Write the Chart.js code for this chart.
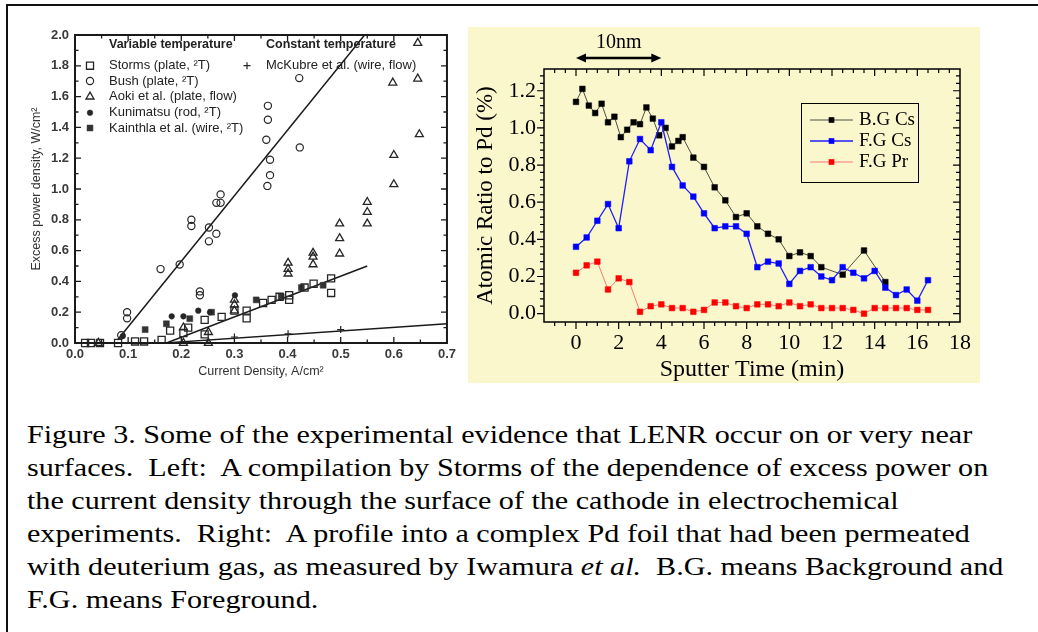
<!DOCTYPE html>
<html>
<head>
<meta charset="utf-8">
<title>Figure 3</title>
<script src="https://cdn.jsdelivr.net/npm/chart.js@4.4.1/dist/chart.umd.min.js"></script>
<style>
  html, body { margin: 0; padding: 0; background: #fff; width: 1038px; height: 632px; overflow: hidden; }
  #frame { position: absolute; left: 6px; top: 4px; width: 1100px; height: 700px; border: 2px solid #111; }
  #leftBox { position: absolute; left: 14px; top: 20px; width: 446px; height: 365px; }
  #rightBox { position: absolute; left: 468px; top: 27px; width: 512px; height: 356px; background: #fbf7cd; }
  #caption {
    position: absolute; left: 27px; top: 418px;
    font-family: "Liberation Serif", "Times New Roman", serif; font-size: 25px; line-height: 33px;
    color: #000; white-space: pre; transform: scaleX(1.205); transform-origin: 0 0;
  }
</style>
</head>
<body>
<div id="frame"></div>
<div id="leftBox"><canvas id="leftChart" width="446" height="365"></canvas></div>
<div id="rightBox"><canvas id="rightChart" width="512" height="356"></canvas></div>
<div id="caption">Figure 3. Some of the experimental evidence that LENR occur on or very near
surfaces.  Left:  A compilation by Storms of the dependence of excess power on
the current density through the surface of the cathode in electrochemical
experiments.  Right:  A profile into a complex Pd foil that had been permeated
with deuterium gas, as measured by Iwamura <i>et al.</i>  B.G. means Background and
F.G. means Foreground.</div>

<script>
// ---- left panel: excess power vs current density ----
const stormsX = [0.019, 0.030, 0.047, 0.081, 0.113, 0.130, 0.163, 0.179, 0.204, 0.213, 0.244, 0.244, 0.276, 0.300, 0.323, 0.323, 0.354, 0.370, 0.385, 0.403, 0.403, 0.432, 0.449, 0.482, 0.482];
const stormsY = [0.0, 0.0, 0.0, 0.0, 0.01, 0.01, 0.02, 0.08, 0.065, 0.10, 0.15, 0.056, 0.17, 0.21, 0.21, 0.16, 0.26, 0.28, 0.30, 0.31, 0.28, 0.36, 0.385, 0.42, 0.325];

const bushX = [0.087, 0.098, 0.098, 0.161, 0.197, 0.219, 0.219, 0.235, 0.235, 0.252, 0.252, 0.266, 0.266, 0.274, 0.274, 0.362, 0.367, 0.367, 0.360, 0.363, 0.363, 0.422, 0.423];
const bushY = [0.05, 0.20, 0.16, 0.48, 0.51, 0.80, 0.76, 0.335, 0.31, 0.75, 0.66, 0.71, 0.91, 0.91, 0.965, 1.02, 1.09, 1.19, 1.32, 1.45, 1.54, 1.72, 1.27];

const aokiX = [0.044, 0.204, 0.204, 0.251, 0.251, 0.300, 0.300, 0.300, 0.401, 0.401, 0.401, 0.448, 0.448, 0.448, 0.498, 0.498, 0.498, 0.550, 0.550, 0.550, 0.600, 0.600, 0.598, 0.648, 0.645, 0.645];
const aokiY = [0.0, 0.0, 0.10, 0.0, 0.07, 0.21, 0.25, 0.28, 0.45, 0.48, 0.52, 0.51, 0.56, 0.585, 0.58, 0.68, 0.775, 0.775, 0.85, 0.915, 1.03, 1.22, 1.69, 1.355, 1.716, 1.948];

const kunimatsuX = [0.090, 0.182, 0.204, 0.232, 0.254, 0.301];
const kunimatsuY = [0.045, 0.173, 0.173, 0.21, 0.20, 0.31];

const kainthlaX = [0.132, 0.172, 0.216, 0.257, 0.341, 0.388, 0.426, 0.467];
const kainthlaY = [0.087, 0.125, 0.158, 0.20, 0.28, 0.30, 0.36, 0.375];

const mckubreX = [0.300, 0.401, 0.500];
const mckubreY = [0.039, 0.060, 0.087];

// fitted straight lines drawn on the original
const bushFitX = [0.08, 0.545];
const bushFitY = [0.02, 2.0];
const stormsFitX = [0.172, 0.55];
const stormsFitY = [0.0, 0.50];
const mckubreFitX = [0.17, 0.70];
const mckubreFitY = [0.0, 0.125];

const leftXTicks = [0, 0.7, 0.1];   // min, max, step
const leftYTicks = [0, 2.0, 0.2];

// ---- right panel: sputter depth profile ----
const bgTime = [0, 0.3, 0.6, 0.9, 1.2, 1.5, 1.8, 2.1, 2.4, 2.7, 3.0, 3.3, 3.6, 3.9, 4.2, 4.5, 4.8, 5.0,
                5.5, 6.0, 6.5, 7.0, 7.5, 8.0, 8.5, 9.0, 9.5, 10.0, 10.5, 11.0, 11.5, 12.5, 13.5, 14.5];
const bgCs = [1.14, 1.21, 1.12, 1.08, 1.13, 1.03, 1.06, 0.95, 0.99, 1.03, 1.02, 1.11, 1.05, 0.96, 1.00, 0.90, 0.93, 0.95,
              0.84, 0.79, 0.68, 0.61, 0.52, 0.54, 0.47, 0.43, 0.40, 0.31, 0.33, 0.31, 0.25, 0.21, 0.34, 0.17];

const fgTime = [0, 0.5, 1, 1.5, 2, 2.5, 3, 3.5, 4, 4.5, 5, 5.5, 6, 6.5, 7, 7.5, 8, 8.5, 9, 9.5, 10,
                10.5, 11, 11.5, 12, 12.5, 13, 13.5, 14, 14.5, 15, 15.5, 16, 16.5];
const fgCs = [0.36, 0.41, 0.50, 0.59, 0.46, 0.82, 0.94, 0.88, 1.03, 0.79, 0.69, 0.63, 0.54, 0.46, 0.47, 0.47, 0.43,
              0.25, 0.28, 0.27, 0.16, 0.23, 0.25, 0.20, 0.18, 0.25, 0.22, 0.19, 0.23, 0.14, 0.10, 0.13, 0.07, 0.18];
const fgPr = [0.22, 0.26, 0.28, 0.13, 0.19, 0.17, 0.01, 0.04, 0.05, 0.03, 0.03, 0.01, 0.02, 0.06, 0.06, 0.04, 0.03,
              0.05, 0.05, 0.04, 0.06, 0.04, 0.05, 0.03, 0.03, 0.03, 0.02, 0.0, 0.03, 0.03, 0.03, 0.03, 0.02, 0.02];

const rightXRange = [-1.5, 18, 2];
const rightYRange = [-0.045, 1.317, 0.2];
const scaleBar = { from: 0, to: 4, label: "10nm" };

const SANS = "'Liberation Sans', Arial, sans-serif";
const SERIF = "'Liberation Serif', 'Times New Roman', serif";

function pts(xs, ys) {
  return xs.map((x, i) => ({ x, y: ys[i] }));
}

// frame box plus inward/outward major and minor tick marks, placed with the scales
const frameTicks = {
  id: "frameTicks",
  afterDatasetsDraw(chart, args, o) {
    const { ctx, chartArea: a, scales } = chart;
    ctx.save();
    ctx.strokeStyle = o.color;
    ctx.lineWidth = o.frameWidth;
    ctx.strokeRect(a.left, a.top, a.right - a.left, a.bottom - a.top);
    ctx.lineWidth = o.tickWidth;

    const drawAxis = (scale, minor, major, horizontal) => {
      const first = Math.ceil(scale.min / minor - 1e-6);
      for (let i = first; i * minor <= scale.max + 1e-9; i++) {
        const v = i * minor;
        const p = scale.getPixelForValue(v);
        const isMajor = Math.abs(v / major - Math.round(v / major)) < 1e-6;
        const len = isMajor ? o.majorLen : o.minorLen;
        ctx.beginPath();
        if (horizontal) {
          if (p < a.left + 2 || p > a.right - 2) continue;
          ctx.moveTo(p, a.bottom); ctx.lineTo(p, a.bottom + o.bottomDir * len);
          ctx.moveTo(p, a.top); ctx.lineTo(p, a.top + len);
        } else {
          if (p > a.bottom - 2 || p < a.top + 2) continue;
          ctx.moveTo(a.left, p); ctx.lineTo(a.left + o.leftDir * len, p);
          ctx.moveTo(a.right, p); ctx.lineTo(a.right - len, p);
        }
        ctx.stroke();
      }
    };
    drawAxis(scales.x, o.xMinor, o.xMajor, true);
    drawAxis(scales.y, o.yMinor, o.yMajor, false);
    ctx.restore();
  },
};

// two-column key of the scanned figure
const leftKey = {
  id: "leftKey",
  afterDraw(chart, args, o) {
    const { ctx, chartArea: a } = chart;
    ctx.save();
    ctx.textBaseline = "middle";
    ctx.fillStyle = o.color;
    ctx.font = "bold 12.5px " + SANS;
    for (const h of o.headers) ctx.fillText(h.text, a.left + h.dx, a.top + h.dy);
    ctx.font = "13px " + SANS;
    for (const it of o.items) {
      const ds = chart.data.datasets[it.ds];
      const x = a.left + it.dx;
      const y = a.top + it.dy;
      ctx.fillStyle = ds.pointBackgroundColor;
      ctx.strokeStyle = ds.pointBorderColor;
      ctx.lineWidth = ds.pointBorderWidth;
      Chart.helpers.drawPoint(ctx, { pointStyle: ds.pointStyle, radius: ds.pointRadius, borderWidth: ds.pointBorderWidth, rotation: 0 }, x, y);
      ctx.fillStyle = o.color;
      ctx.fillText(ds.label, x + o.textGap, y);
    }
    ctx.restore();
  },
};

// legend box and 10 nm scale bar of the profile panel
const rightKey = {
  id: "rightKey",
  afterDraw(chart, args, o) {
    const { ctx, chartArea: a, scales: { x } } = chart;
    ctx.save();
    // legend box
    const bx = a.left + o.box.dx, by = a.top + o.box.dy;
    ctx.strokeStyle = "#000";
    ctx.lineWidth = 1;
    ctx.strokeRect(bx + 0.5, by + 0.5, o.box.w, o.box.h);
    ctx.font = "19px " + SERIF;
    ctx.textBaseline = "middle";
    o.rows.forEach((ds, i) => {
      const d = chart.data.datasets[ds];
      const y = by + o.rowTop + i * o.rowStep;
      const x1 = bx + o.lineFrom, x2 = bx + o.lineTo;
      ctx.strokeStyle = d.borderColor;
      ctx.lineWidth = d.borderWidth;
      ctx.beginPath(); ctx.moveTo(x1, y); ctx.lineTo(x2, y); ctx.stroke();
      ctx.fillStyle = d.pointBackgroundColor;
      ctx.strokeStyle = d.pointBorderColor;
      Chart.helpers.drawPoint(ctx, { pointStyle: "rect", radius: d.pointRadius, borderWidth: 0, rotation: 0 }, (x1 + x2) / 2, y);
      ctx.fillStyle = "#000";
      ctx.fillText(d.label, bx + o.textX, y);
    });
    // scale bar
    const p0 = x.getPixelForValue(scaleBar.from);
    const p1 = x.getPixelForValue(scaleBar.to);
    const yb = a.top + o.barDy;
    ctx.strokeStyle = "#000";
    ctx.fillStyle = "#000";
    ctx.lineWidth = 2.5;
    ctx.beginPath(); ctx.moveTo(p0 + 6, yb); ctx.lineTo(p1 - 6, yb); ctx.stroke();
    for (const [tip, dir] of [[p0, 1], [p1, -1]]) {
      ctx.beginPath();
      ctx.moveTo(tip, yb);
      ctx.lineTo(tip + dir * 10, yb - 4.5);
      ctx.lineTo(tip + dir * 10, yb + 4.5);
      ctx.closePath();
      ctx.fill();
    }
    ctx.font = "20px " + SERIF;
    ctx.textAlign = "center";
    ctx.fillText(scaleBar.label, (p0 + p1) / 2, a.top + o.labelDy);
    ctx.restore();
  },
};

const openFill = "rgba(255,255,255,0)";
const ink = "#262626";

new Chart(document.getElementById("leftChart"), {
  type: "scatter",
  data: {
    datasets: [
      { label: "Storms (plate, ²T)", data: pts(stormsX, stormsY), pointStyle: "rect", pointRadius: 5,
        pointBackgroundColor: openFill, pointBorderColor: ink, pointBorderWidth: 1.3, clip: false },
      { label: "Bush (plate, ²T)", data: pts(bushX, bushY), pointStyle: "circle", pointRadius: 3.6,
        pointBackgroundColor: openFill, pointBorderColor: ink, pointBorderWidth: 1.2, clip: false },
      { label: "Aoki et al. (plate, flow)", data: pts(aokiX, aokiY), pointStyle: "triangle", pointRadius: 4.6,
        pointBackgroundColor: openFill, pointBorderColor: ink, pointBorderWidth: 1.3, clip: false },
      { label: "Kunimatsu (rod, ²T)", data: pts(kunimatsuX, kunimatsuY), pointStyle: "circle", pointRadius: 2.8,
        pointBackgroundColor: ink, pointBorderColor: ink, pointBorderWidth: 0.5, clip: false },
      { label: "Kainthla et al. (wire, ²T)", data: pts(kainthlaX, kainthlaY), pointStyle: "rect", pointRadius: 4.2,
        pointBackgroundColor: "#333", pointBorderColor: "#333", pointBorderWidth: 0.5, clip: false },
      { label: "McKubre et al. (wire, flow)", data: pts(mckubreX, mckubreY), pointStyle: "cross", pointRadius: 3.5,
        pointBackgroundColor: ink, pointBorderColor: ink, pointBorderWidth: 1.2, clip: false },
      { label: "bush fit", data: pts(bushFitX, bushFitY), showLine: true, borderColor: "#1a1a1a", borderWidth: 1.5, pointRadius: 0 },
      { label: "storms fit", data: pts(stormsFitX, stormsFitY), showLine: true, borderColor: "#1a1a1a", borderWidth: 1.5, pointRadius: 0 },
      { label: "mckubre fit", data: pts(mckubreFitX, mckubreFitY), showLine: true, borderColor: "#1a1a1a", borderWidth: 1.3, pointRadius: 0 },
    ],
  },
  options: {
    responsive: false,
    animation: false,
    events: [],
    layout: { padding: { left: 0, top: 15, right: 13, bottom: 0 } },
    plugins: {
      legend: { display: false },
      tooltip: { enabled: false },
      frameTicks: { color: "#1a1a1a", frameWidth: 2, tickWidth: 1.3, majorLen: 6, minorLen: 3.5,
        xMinor: 0.05, xMajor: 0.1, yMinor: 0.1, yMajor: 0.2, bottomDir: -1, leftDir: 1 },
      leftKey: {
        color: "#222", textGap: 19,
        headers: [{ text: "Variable temperature", dx: 34, dy: 10 }, { text: "Constant temperature", dx: 191, dy: 10 }],
        items: [
          { ds: 0, dx: 15, dy: 30.7 }, { ds: 1, dx: 15, dy: 46 }, { ds: 2, dx: 15, dy: 61.7 },
          { ds: 3, dx: 15, dy: 77.7 }, { ds: 4, dx: 15, dy: 93 }, { ds: 5, dx: 172, dy: 30.7 },
        ],
      },
    },
    scales: {
      x: {
        type: "linear", min: leftXTicks[0], max: leftXTicks[1],
        grid: { display: false, drawTicks: false }, border: { display: false },
        ticks: { stepSize: leftXTicks[2], padding: 4, color: "#3a3a3a", font: { family: SANS, size: 13, weight: "bold" },
          callback: (v) => v.toFixed(1) },
        title: { display: true, text: "Current Density, A/cm²", color: "#333", font: { family: SANS, size: 12.5 }, padding: { top: 0, bottom: 6 } },
        afterFit: (s) => { s.height = 42; },
      },
      y: {
        type: "linear", min: leftYTicks[0], max: leftYTicks[1],
        grid: { display: false, drawTicks: false }, border: { display: false },
        ticks: { stepSize: leftYTicks[2], padding: 6, color: "#3a3a3a", font: { family: SANS, size: 13, weight: "bold" },
          callback: (v) => v.toFixed(1) },
        title: { display: true, text: "Excess power density, W/cm²", color: "#333", font: { family: SANS, size: 12.5 }, padding: { top: 15, bottom: 0 } },
        afterFit: (s) => { s.width = 61; },
      },
    },
  },
  plugins: [frameTicks, leftKey],
});

new Chart(document.getElementById("rightChart"), {
  type: "scatter",
  data: {
    datasets: [
      { label: "F.G Cs", data: pts(fgTime, fgCs), showLine: true, borderColor: "#1e1eff", borderWidth: 1.3,
        pointStyle: "rect", pointRadius: 4, pointBackgroundColor: "#0000ff", pointBorderColor: "#0000ff", pointBorderWidth: 0.5, clip: false },
      { label: "B.G Cs", data: pts(bgTime, bgCs), showLine: true, borderColor: "#4d4d45", borderWidth: 1,
        pointStyle: "rect", pointRadius: 4, pointBackgroundColor: "#000", pointBorderColor: "#000", pointBorderWidth: 0.5, clip: false },
      { label: "F.G Pr", data: pts(fgTime, fgPr), showLine: true, borderColor: "#f27a7a", borderWidth: 1,
        pointStyle: "rect", pointRadius: 4, pointBackgroundColor: "#ff0000", pointBorderColor: "#ff0000", pointBorderWidth: 0.5, clip: false },
    ],
  },
  options: {
    responsive: false,
    animation: false,
    events: [],
    layout: { padding: { left: 0, top: 42, right: 20, bottom: 0 } },
    plugins: {
      legend: { display: false },
      tooltip: { enabled: false },
      frameTicks: { color: "#000", frameWidth: 1.5, tickWidth: 1.2, majorLen: 7, minorLen: 4,
        xMinor: 0.5, xMajor: 2, yMinor: 0.04, yMajor: 0.2, bottomDir: 1, leftDir: -1 },
      rightKey: {
        box: { dx: 257, dy: 34, w: 117, h: 79 },
        rows: [1, 0, 2], rowTop: 17, rowStep: 21, lineFrom: 9, lineTo: 52, textX: 58,
        barDy: -11, labelDy: -26,
      },
    },
    scales: {
      x: {
        type: "linear", min: rightXRange[0], max: rightXRange[1],
        grid: { display: false, drawTicks: false }, border: { display: false },
        ticks: { stepSize: rightXRange[2], includeBounds: false, padding: 8, color: "#000",
          font: { family: SERIF, size: 22 }, callback: (v) => String(v) },
        title: { display: true, text: "Sputter Time (min)", color: "#000",
          font: { family: SERIF, size: 24, lineHeight: 1 }, padding: { top: 0, bottom: 1 } },
        afterFit: (s) => { s.height = 61; },
      },
      y: {
        type: "linear", min: rightYRange[0], max: rightYRange[1],
        grid: { display: false, drawTicks: false }, border: { display: false },
        ticks: { stepSize: rightYRange[2], includeBounds: false, padding: 8, color: "#000",
          font: { family: SERIF, size: 22 }, callback: (v) => v.toFixed(1) },
        title: { display: true, text: "Atomic Ratio to Pd (%)", color: "#000",
          font: { family: SERIF, size: 23, lineHeight: 1 }, padding: { top: 6, bottom: 0 } },
        afterFit: (s) => { s.width = 76; },
      },
    },
  },
  plugins: [frameTicks, rightKey],
});
</script>
</body>
</html>
